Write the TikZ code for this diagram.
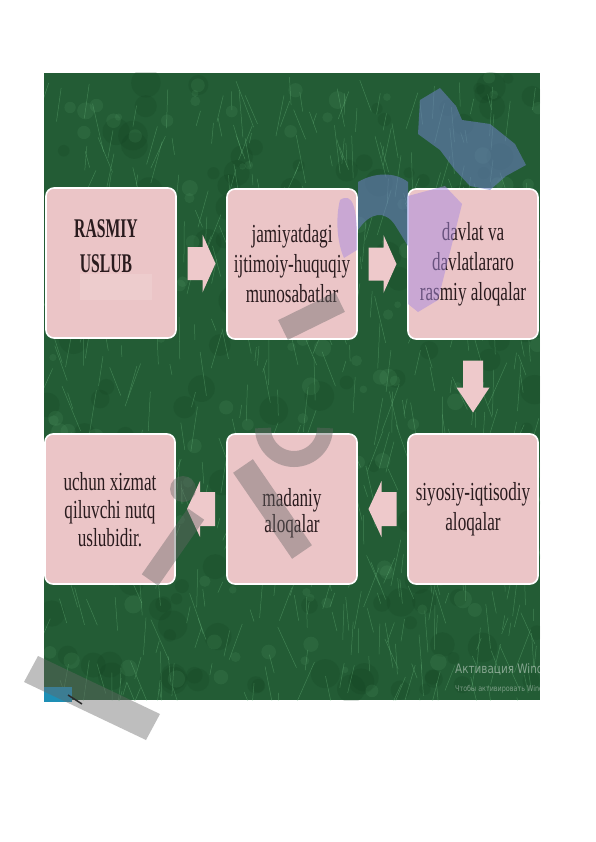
\documentclass[tikz,border=0pt]{standalone}
\usepackage{fontspec}
\setmainfont{Liberation Serif}
\newfontfamily\slidefont[FakeStretch=0.66]{Liberation Serif}
\newfontfamily\titlefont[FakeStretch=0.58]{Liberation Serif}
\newfontfamily\winfont[FakeStretch=0.8]{DejaVu Sans}
\usetikzlibrary{calc}
\definecolor{greenbase}{HTML}{235C35}
\definecolor{greenlight}{HTML}{74C488}
\definecolor{greendark}{HTML}{0F3A1C}
\definecolor{boxpink}{HTML}{EBC5C7}
\definecolor{arrowpink}{HTML}{EEC9CB}
\definecolor{txtdark}{HTML}{2A1B1E}
\definecolor{wmviolet}{HTML}{A98BE0}
\definecolor{wmblue}{HTML}{6F80C8}
\definecolor{teal}{HTML}{1E8FB5}
\begin{document}
\begin{tikzpicture}[x=1pt,y=-1pt,
  pinkbox/.style={draw=white, line width=1.6pt, fill=boxpink, rounded corners=8pt,
    minimum width=130pt, minimum height=150pt, inner sep=0pt},
  boxtext/.style={font=\slidefont\fontsize{26}{30}\selectfont, text=txtdark, align=center},
  wmgray/.style={fill=black!60, opacity=0.42},
  wmline/.style={draw=black!60, opacity=0.42},
  wmpurple/.style={fill=wmviolet, opacity=0.5},
  pics/barrow/.style n args={4}{code={
    \fill[arrowpink] (-#1/2,-#2) -- (#1/2-#4,-#2) -- (#1/2-#4,-#3) -- (#1/2,0)
      -- (#1/2-#4,#3) -- (#1/2-#4,#2) -- (-#1/2,#2) -- cycle;}}
]
\useasboundingbox (0,0) rectangle (596,842);
\fill[white] (0,0) rectangle (596,842);

% textured green slide background
\begin{scope}
  \clip (44,73) rectangle (540,700);
  \fill[greenbase] (44,73) rectangle (540,700);
  \pgfmathsetseed{12}
  \foreach \i in {1,...,160}{
    \pgfmathsetmacro\xa{44+496*rnd}
    \pgfmathsetmacro\ya{73+627*rnd}
    \pgfmathsetmacro\rr{5+10*rnd}
    \fill[greendark, opacity=0.16] (\xa,\ya) circle (\rr);
  }
  \foreach \i in {1,...,140}{
    \pgfmathsetmacro\xa{44+496*rnd}
    \pgfmathsetmacro\ya{73+627*rnd}
    \pgfmathsetmacro\rr{3+6*rnd}
    \fill[greenlight, opacity=0.1] (\xa,\ya) circle (\rr);
  }
  \foreach \i in {1,...,560}{
    \pgfmathsetmacro\xa{44+496*rnd}
    \pgfmathsetmacro\ya{73+627*rnd}
    \pgfmathsetmacro\len{10+40*rnd}
    \pgfmathsetmacro\ang{65+50*rnd}
    \draw[greenlight, line width=0.5pt, opacity=0.36] (\xa,\ya) -- ++(\ang:\len);
  }
  % activation notice
  \node[anchor=base west, font=\winfont\fontsize{13}{13}\selectfont, text=white, opacity=0.45, inner sep=0pt]
    (act1) at (455,673) {Активация Windows};
  \node[anchor=base west, font=\winfont\fontsize{8}{8}\selectfont, text=white, opacity=0.4, inner sep=0pt]
    (act2) at (455,691) {Чтобы активировать Windows, перейдите};
\end{scope}

% small teal tab bottom-left
\fill[teal] (44,687) rectangle (72,702);
\draw[black, line width=1.5pt] (68,695) -- (82,704);

% boxes
\node[pinkbox] (b1) at (111,263) {};
\node[pinkbox, boxtext] (b2) at (292,264) {jamiyatdagi\\ijtimoiy-huquqiy\\munosabatlar};
\node[pinkbox, boxtext] (b3) at (473,264) {davlat va\\davlatlararo\\rasmiy aloqalar};
\node[pinkbox] (b4) at (110,509) {};
\node[pinkbox] (b5) at (292,509) {};
\node[pinkbox, boxtext] (b6) at (473,509) {siyosiy-iqtisodiy\\aloqalar};

\fill[white, opacity=0.12] (80,274) rectangle (152,300);
\node[font=\titlefont\bfseries\fontsize{27}{35}\selectfont, text=txtdark, align=center]
  (t1) at (106,246) {RASMIY\\USLUB};
\node[boxtext, font=\slidefont\fontsize{26}{28}\selectfont] (t4) at (110,510) {uchun xizmat\\qiluvchi nutq\\uslubidir.};
\node[boxtext, font=\slidefont\fontsize{26}{26}\selectfont] (t5) at (292,513) {madaniy\\aloqalar};

% block arrows between boxes
\coordinate (m1) at ($(b1.east)!0.5!(b2.west)$);
\coordinate (m2) at ($(b2.east)!0.5!(b3.west)$);
\coordinate (m3) at ($(b3.south)!0.5!(b6.north)$);
\coordinate (m4) at ($(b6.west)!0.5!(b5.east)$);
\coordinate (m5) at ($(b5.west)!0.5!(b4.east)$);
\pic at (m1) {barrow={28}{16.5}{29}{13}};
\pic at (m2) {barrow={28}{16.5}{29}{13}};
\pic[rotate=-90] at (m3) {barrow={52}{10}{16.5}{25}};
\pic[rotate=180] at (m4) {barrow={28}{17}{28}{13}};
\pic[rotate=180] at (m5) {barrow={28}{17}{28}{13}};

% watermark (translucent shapes)
\fill[wmgray] (38,656) -- (160,714) -- (146,740) -- (24,682) -- cycle;
\fill[wmgray] (183,489) circle (13);
\draw[wmline, line width=20pt] (150,580) -- (196,514);
\draw[wmline, line width=24pt] (243,466) -- (302,552);
\draw[wmline, line width=16pt] (325,428) arc[start angle=0, end angle=180, radius=31];
\draw[wmline, line width=22pt] (283,330) -- (340,302);
\fill[wmpurple] (340,200) .. controls (352,192) and (358,205) .. (357,250) -- (344,258) .. controls (336,240) and (336,215) .. (340,200) -- cycle;
\fill[wmpurple] (408,196) -- (445,186) -- (462,204) -- (438,300) -- (418,312) -- (408,304) -- cycle;
\fill[wmblue, opacity=0.55] (358,182) .. controls (375,172) and (395,172) .. (408,182) -- (408,246) -- (395,225) .. controls (385,210) and (370,212) .. (358,230) -- cycle;
\fill[wmblue, opacity=0.55] (420,100) -- (440,88) -- (456,106) -- (462,120) -- (490,124) -- (515,144) -- (526,165)
  -- (506,176) -- (490,190) -- (470,186) -- (455,170) -- (440,150) -- (418,134) -- cycle;
\end{tikzpicture}
\end{document}
